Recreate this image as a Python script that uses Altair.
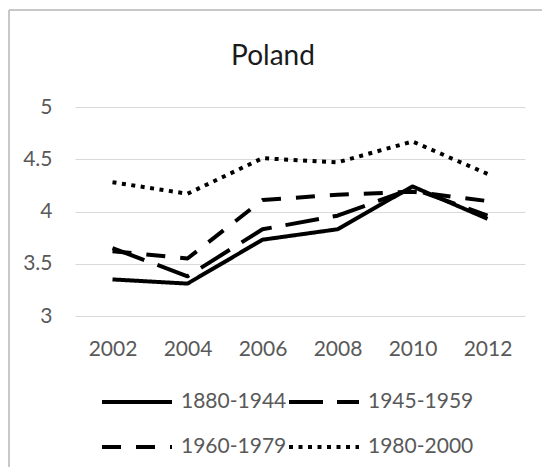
import altair as alt
import pandas as pd

years = [2002, 2004, 2006, 2008, 2010, 2012]
series_names = ["1880-1944", "1945-1959", "1960-1979", "1980-2000"]
s1880 = [3.35, 3.31, 3.73, 3.83, 4.24, 3.93]
s1945 = [3.65, 3.38, 3.83, 3.96, 4.22, 3.96]
s1960 = [3.62, 3.55, 4.11, 4.16, 4.19, 4.10]
s1980 = [4.28, 4.17, 4.51, 4.47, 4.67, 4.36]
y_ticks = [3, 3.5, 4, 4.5, 5]
dashes = [[1, 0], [34, 14], [19, 15], [4, 5.5]]

rows = []
for name, vals in zip(series_names, [s1880, s1945, s1960, s1980]):
    for yr, v in zip(years, vals):
        rows.append({"Year": yr, "Value": v, "Cohort": name})
df = pd.DataFrame(rows)

FONT = "Lato"
GREY = "#595959"

lines = alt.Chart(df).mark_line(
    color="black", strokeWidth=4, strokeCap="butt", strokeJoin="round"
).encode(
    x=alt.X("Year:Q",
            scale=alt.Scale(domain=[2001, 2013], nice=False, zero=False),
            axis=alt.Axis(values=years, format="d", title=None, grid=False,
                          domain=False, ticks=False, labelPadding=22,
                          labelFontSize=21, labelColor=GREY, labelFont=FONT)),
    y=alt.Y("Value:Q",
            scale=alt.Scale(domain=[3, 5], nice=False, zero=False),
            axis=alt.Axis(values=y_ticks, format="~g", title=None, grid=True,
                          gridColor="#d9d9d9", gridWidth=1, domain=False,
                          ticks=False, labelPadding=23, labelFontSize=21,
                          labelColor=GREY, labelFont=FONT)),
    strokeDash=alt.StrokeDash(
        "Cohort:N",
        scale=alt.Scale(domain=series_names, range=dashes),
        legend=alt.Legend(title=None, orient="none", legendX=25, legendY=283,
                          direction="horizontal",
                          columns=2, symbolType="stroke", symbolSize=4900,
                          symbolStrokeWidth=4, symbolStrokeColor="black",
                          labelFontSize=21, labelColor=GREY, labelFont=FONT,
                          labelOffset=7, columnPadding=0, rowPadding=21,
                          clipHeight=24, padding=0)),
)

frame_df = pd.DataFrame({"k": [0]})
frame_top = alt.Chart(frame_df).mark_rule(color="#c8c8c8", strokeWidth=2).encode(
    x=alt.value(-66), x2=alt.value(470), y=alt.value(-97))
frame_left = alt.Chart(frame_df).mark_rule(color="#c8c8c8", strokeWidth=2).encode(
    x=alt.value(-66), y=alt.value(-97), y2=alt.value(365))

chart = alt.layer(frame_top, frame_left, lines).properties(
    width=450, height=209,
    title=alt.TitleParams("Poland", fontSize=28, font=FONT, color="#1a1a1a",
                          fontWeight="normal", anchor="middle", dx=-27,
                          offset=-84, baseline="alphabetic"),
    autosize=alt.AutoSizeParams(type="none"),
    padding={"left": 67, "top": 99, "right": 17, "bottom": 151},
    background="white",
).configure_view(stroke=None)

chart.save("out.html", embed_options={"renderer": "svg", "actions": False})
